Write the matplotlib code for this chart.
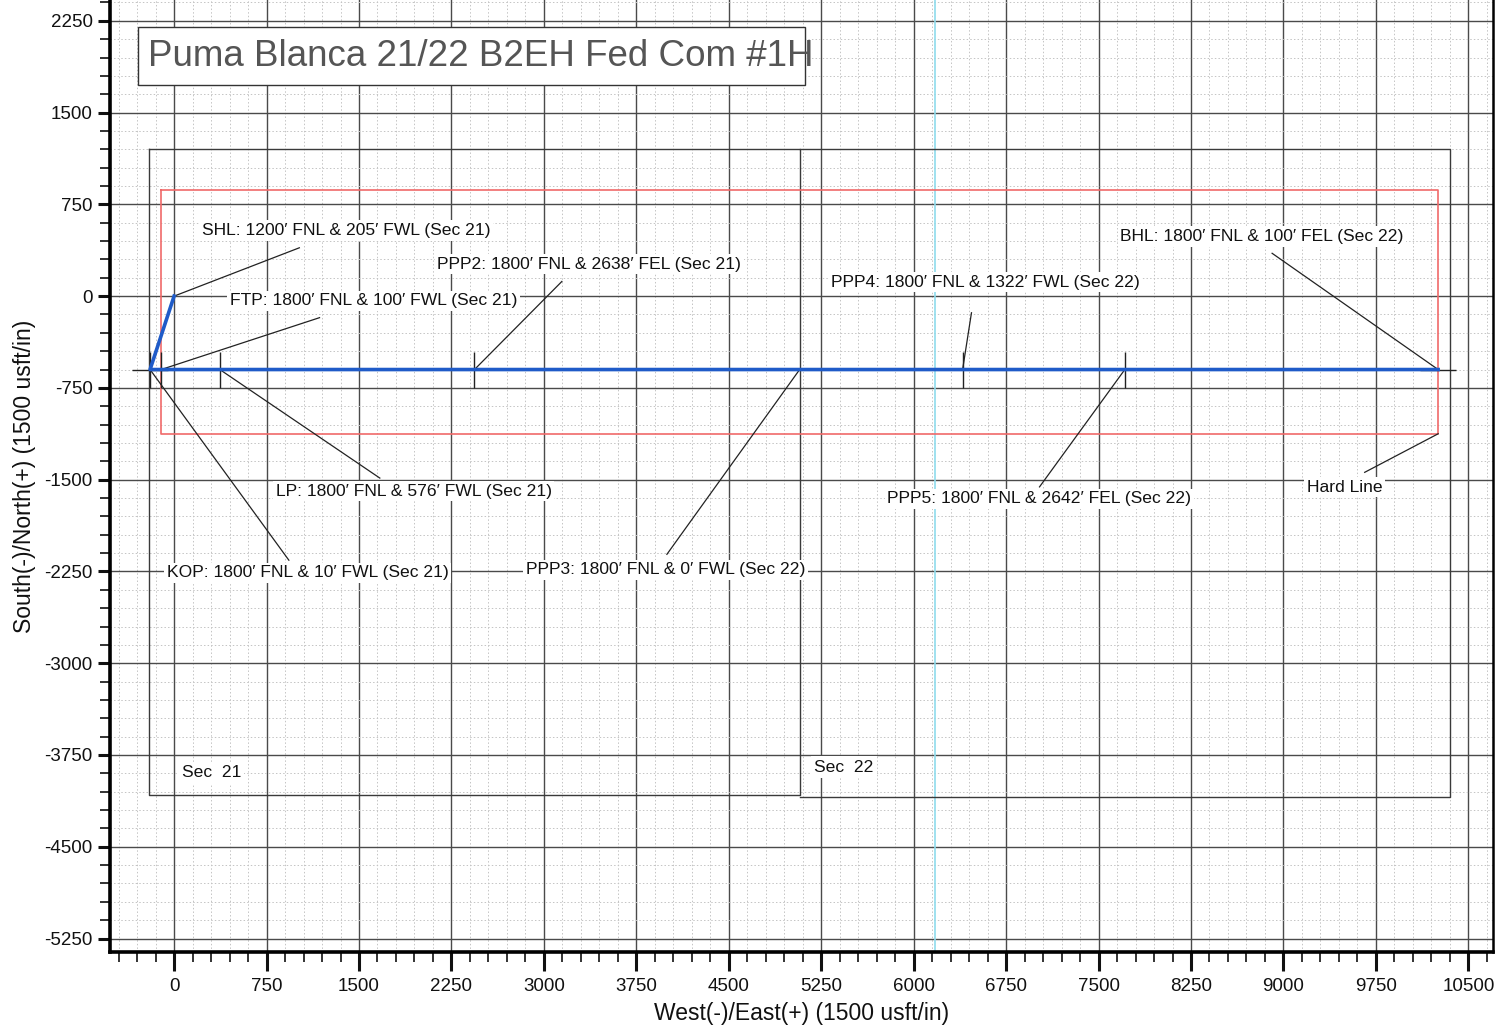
import matplotlib.pyplot as plt
from matplotlib.ticker import MultipleLocator
from matplotlib.patches import Rectangle

plt.rcParams["font.family"] = ["Liberation Sans", "DejaVu Sans"]
plt.rcParams["axes.unicode_minus"] = False

# ── data (plan view, usft) ────────────────────────────────────────────────
station_names = ["SHL", "KOP", "FTP", "LP", "PPP2", "PPP3", "PPP4", "PPP5", "BHL"]
station_east = [0, -195, -105, 371, 2437, 5075, 6397, 7713, 10255]
station_north = [0, -600, -600, -600, -600, -600, -600, -600, -600]

# section lines
sec21_east = [-205, 5075, 5075, -205, -205]
sec21_north = [1200, 1200, -4080, -4080, 1200]
sec22_east = [5075, 10355, 10355, 5075]
sec22_north = [1200, 1200, -4095, -4095]

# hard line
hard_east = [-105, 10255, 10255, -105, -105]
hard_north = [870, 870, -1125, -1125, 870]

# annotations: text, leader start (station or hard line corner), leader end
ann_text = [
    "SHL: 1200′ FNL & 205′ FWL (Sec 21)",
    "FTP: 1800′ FNL & 100′ FWL (Sec 21)",
    "PPP2: 1800′ FNL & 2638′ FEL (Sec 21)",
    "PPP4: 1800′ FNL & 1322′ FWL (Sec 22)",
    "BHL: 1800′ FNL & 100′ FEL (Sec 22)",
    "LP: 1800′ FNL & 576′ FWL (Sec 21)",
    "PPP5: 1800′ FNL & 2642′ FEL (Sec 22)",
    "Hard Line",
    "KOP: 1800′ FNL & 10′ FWL (Sec 21)",
    "PPP3: 1800′ FNL & 0′ FWL (Sec 22)",
]
ann_x = [223, 452, 2134, 5328, 7676, 824, 5787, 9187, -59, 2853]
ann_y = [536, -38, 262, 113, 487, -1594, -1657, -1560, -2261, -2236]
lead_x0 = [0, -105, 2437, 6397, 10255, 371, 7713, 10255, -195, 5075]
lead_y0 = [0, -600, -600, -600, -600, -600, -600, -1125, -600, -600]
lead_x1 = [1016, 1180, 3146, 6469, 8908, 1669, 7021, 9659, 931, 3998]
lead_y1 = [395, -176, 120, -136, 350, -1487, -1559, -1440, -2158, -2110]

sec_labels = ["Sec  21", "Sec  22"]
sec_label_x = [61, 5195]
sec_label_y = [-3895, -3850]

tick_east = [-195, -105, 371, 2437, 6397, 7713]
cross_east = [-195, 10255]

WELL_COLOR = "#1f5bc8"
HARD_COLOR = "#f06a6a"
LINE_COLOR = "#3a3a3a"

fig = plt.figure(figsize=(15.11, 10.31), dpi=100)
ax = fig.add_axes([110 / 1511, 1 - 952 / 1031, 1383 / 1511, 952 / 1031])
ax.set_xlim(-520, 10700)
ax.set_ylim(-5360, 2420)

# grid
ax.xaxis.set_major_locator(MultipleLocator(750))
ax.xaxis.set_minor_locator(MultipleLocator(150))
ax.yaxis.set_major_locator(MultipleLocator(750))
ax.yaxis.set_minor_locator(MultipleLocator(150))
ax.grid(which="minor", color="#c4c4c4", linewidth=0.7, linestyle=(0, (1.5, 2.2)), zorder=0)
ax.grid(which="major", color="#4a4a4a", linewidth=1.0, zorder=0.5)
ax.set_axisbelow(True)

ax.tick_params(which="major", direction="out", length=9, width=2.2, labelsize=13.5,
               colors="#111")
ax.tick_params(axis="x", which="major", length=14, pad=5)
ax.tick_params(which="minor", direction="out", length=7, width=1.2, colors="#111")
ax.spines["top"].set_visible(False)
ax.spines["left"].set_linewidth(2.6)
ax.spines["bottom"].set_linewidth(2.6)
ax.spines["right"].set_linewidth(1.8)

# scan artefact line
ax.axvline(6172, color="#8fdcec", linewidth=1.2, zorder=1)

# sections and hard line
ax.plot(sec21_east, sec21_north, color=LINE_COLOR, linewidth=1.0, zorder=2)
ax.plot(sec22_east, sec22_north, color=LINE_COLOR, linewidth=1.0, zorder=2)
ax.plot(hard_east, hard_north, color=HARD_COLOR, linewidth=1.2, zorder=2)

# leaders
for x0, y0, x1, y1 in zip(lead_x0, lead_y0, lead_x1, lead_y1):
    ax.plot([x0, x1], [y0, y1], color="#222", linewidth=0.9, zorder=3)

# station tick marks
ax.plot(tick_east, [-600] * len(tick_east), linestyle="none", marker="|",
        markersize=26, markeredgewidth=1.0, color="#222", zorder=3)
ax.plot(cross_east, [-600] * len(cross_east), linestyle="none", marker="_",
        markersize=26, markeredgewidth=1.0, color="#222", zorder=3)

# well path
ax.plot(station_east, station_north, color=WELL_COLOR, linewidth=2.6, zorder=4)

# labels
for t, x, y in zip(ann_text, ann_x, ann_y):
    ax.text(x, y, t, fontsize=12.6, ha="left", va="center", color="#111", zorder=5,
            bbox=dict(boxstyle="square,pad=0.15", fc="white", ec="none"))
for t, x, y in zip(sec_labels, sec_label_x, sec_label_y):
    ax.text(x, y, t, fontsize=12.6, ha="left", va="center", color="#111", zorder=5,
            bbox=dict(boxstyle="square,pad=0.2", fc="white", ec="none"))

# title box
ax.add_patch(Rectangle((0.0202, 0.9107), 0.4823, 0.0609, transform=ax.transAxes,
                       facecolor="white", edgecolor="#333", linewidth=1.0, zorder=6))
ax.text(0.0275, 0.941, "Puma Blanca 21/22 B2EH Fed Com #1H", transform=ax.transAxes,
        fontsize=26.5, color="#555", ha="left", va="center", zorder=7)

ax.set_xlabel("West(-)/East(+) (1500 usft/in)", fontsize=16.5, labelpad=5, color="#111")
ax.set_ylabel("South(-)/North(+) (1500 usft/in)", fontsize=16.5, labelpad=6, color="#111")

fig.savefig("out.png", dpi=100)
